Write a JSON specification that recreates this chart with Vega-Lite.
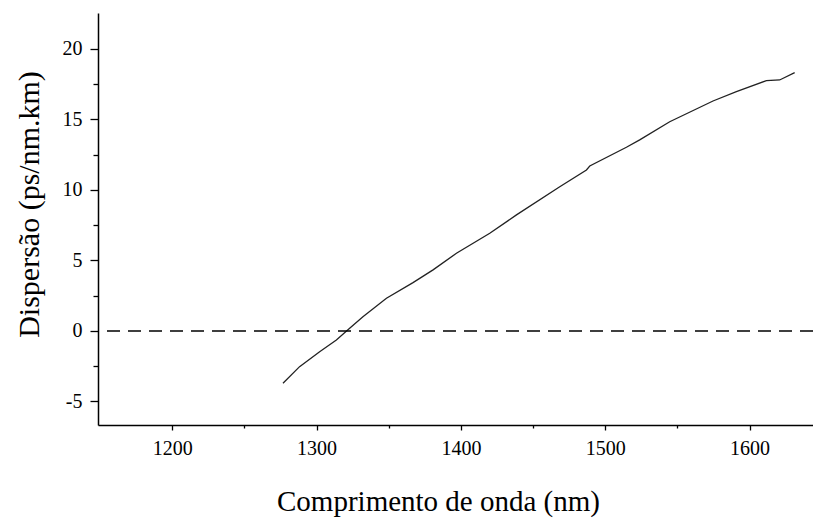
{
  "$schema": "https://vega.github.io/schema/vega-lite/v6.json",
  "width": 715,
  "height": 412,
  "autosize": {"type": "none"},
  "padding": {"left": 98, "top": 13, "right": 0, "bottom": 96},
  "background": "white",
  "config": {
    "view": {"stroke": null},
    "font": "Liberation Serif",
    "axis": {
      "labelFont": "Liberation Serif",
      "titleFont": "Liberation Serif",
      "labelColor": "black",
      "titleColor": "black",
      "domainColor": "black",
      "tickColor": "black",
      "domainWidth": 1.5,
      "tickWidth": 1.3,
      "grid": false,
      "labelFontSize": 20,
      "titleFontWeight": "normal"
    }
  },
  "layer": [
    {
      "data": {"values": [
        {"wl": 1276.7, "d": -3.71},
        {"wl": 1288.2, "d": -2.53},
        {"wl": 1302.1, "d": -1.47},
        {"wl": 1313.7, "d": -0.64},
        {"wl": 1322.9, "d": 0.19},
        {"wl": 1332.1, "d": 1.01},
        {"wl": 1348.4, "d": 2.32},
        {"wl": 1366.8, "d": 3.43},
        {"wl": 1380.7, "d": 4.33},
        {"wl": 1396.9, "d": 5.51},
        {"wl": 1420.0, "d": 6.93},
        {"wl": 1438.5, "d": 8.23},
        {"wl": 1468.5, "d": 10.23},
        {"wl": 1487.0, "d": 11.42},
        {"wl": 1489.3, "d": 11.70},
        {"wl": 1514.7, "d": 13.03},
        {"wl": 1523.9, "d": 13.55},
        {"wl": 1544.7, "d": 14.84},
        {"wl": 1574.7, "d": 16.31},
        {"wl": 1590.9, "d": 16.97},
        {"wl": 1611.7, "d": 17.75},
        {"wl": 1620.9, "d": 17.80},
        {"wl": 1631.3, "d": 18.32}
      ]},
      "mark": {"type": "line", "color": "#222", "strokeWidth": 1.3},
      "encoding": {
        "x": {
          "field": "wl", "type": "quantitative",
          "scale": {"domain": [1148.5, 1644], "nice": false, "zero": false},
          "axis": {
            "title": "Comprimento de onda (nm)",
            "titleFontSize": 29,
            "values": [1200, 1250, 1300, 1350, 1400, 1450, 1500, 1550, 1600],
            "labelExpr": "datum.value % 100 == 0 ? toString(datum.value) : ''",
            "tickSize": {"condition": {"test": "datum.value % 100 == 0", "value": 5}, "value": 3},
            "labelPadding": 8,
            "titleX": 340,
            "titleY": 85,
            "titleBaseline": "alphabetic",
            "titleAlign": "center"
          }
        },
        "y": {
          "field": "d", "type": "quantitative",
          "scale": {"domain": [-6.67, 22.55], "nice": false, "zero": false},
          "axis": {
            "title": "Dispersão (ps/nm.km)",
            "titleFontSize": 30,
            "values": [-5, -2.5, 0, 2.5, 5, 7.5, 10, 12.5, 15, 17.5, 20],
            "labelExpr": "datum.value % 5 == 0 ? toString(datum.value) : ''",
            "tickSize": {"condition": {"test": "datum.value % 5 == 0", "value": 8}, "value": 5},
            "labelPadding": 8,
            "titleX": -60,
            "titleY": 191,
            "titleBaseline": "alphabetic",
            "titleAlign": "center",
            "titleAngle": -90
          }
        }
      }
    },
    {
      "data": {"values": [{"z": 0}]},
      "mark": {"type": "rule", "color": "black", "strokeWidth": 1.5, "strokeDash": [13, 8]},
      "encoding": {"y": {"field": "z", "type": "quantitative"}}
    }
  ]
}
